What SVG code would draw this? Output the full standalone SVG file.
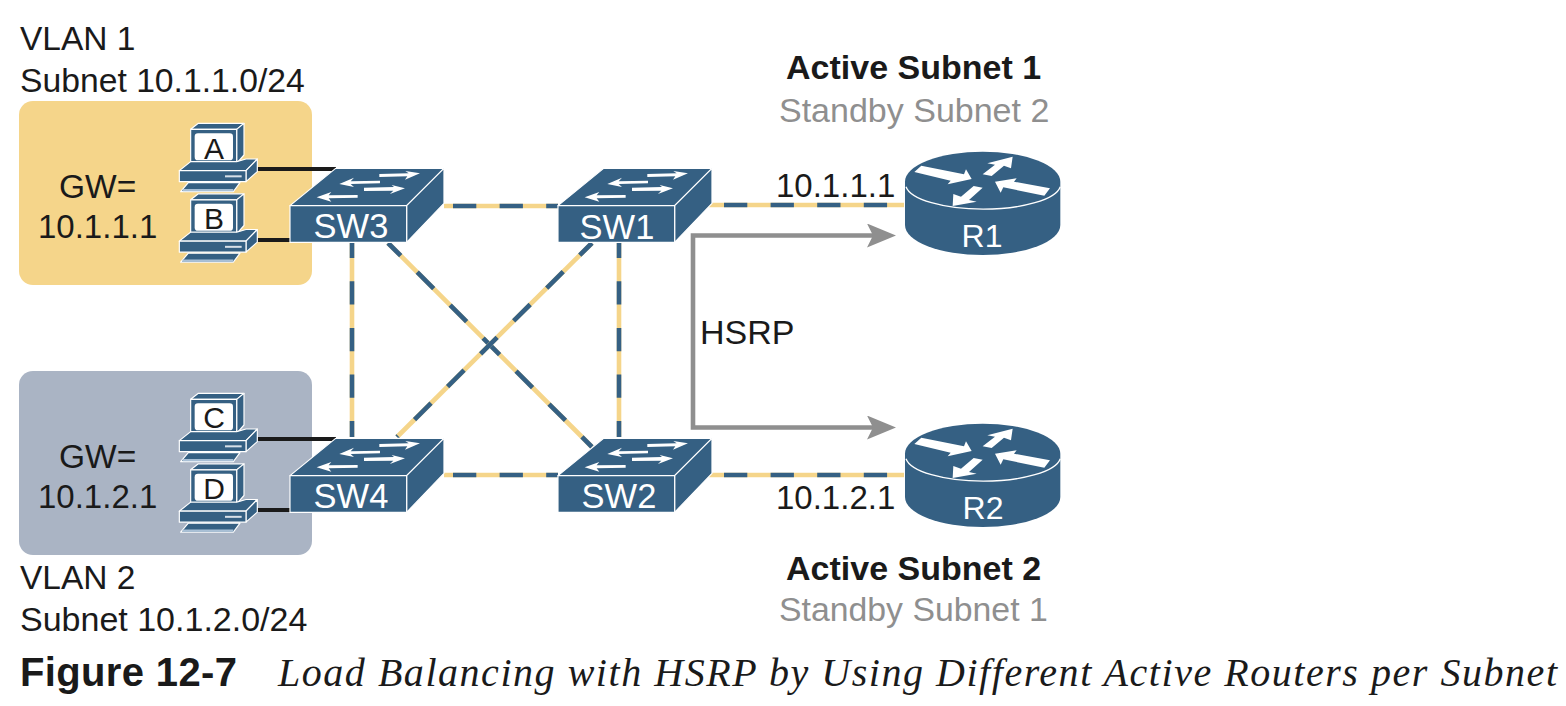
<svg xmlns="http://www.w3.org/2000/svg" xmlns:xlink="http://www.w3.org/1999/xlink" width="1566" height="706" viewBox="0 0 1566 706">
<style>
text{font-family:"Liberation Sans",Arial,sans-serif;fill:#1a1a1a}
.t{font-size:33.5px}
.s{font-size:34px}
.i{font-size:33px}
.b{font-size:34px;font-weight:bold}
.g{font-size:34px;fill:#8f8f8f}
.w{fill:#fff;text-anchor:middle}
.n{font-size:34.5px}
.r{font-size:32px}
.pc{font-size:30px;text-anchor:middle}
.y{stroke:#f5d58a;stroke-width:4.6;fill:none}
.d{stroke:#356083;stroke-width:4.6;fill:none;stroke-dasharray:23.3 23.3}
.k{stroke:#1a1a1a;stroke-width:4;fill:none}
.f{fill:#356083;stroke:#fff;stroke-width:3.5;stroke-linejoin:round}
.a{fill:#fff}
</style>
<defs>
<g id="pc" transform="scale(0.3333)">
<path class="f" d="M62 58L85 40H222L200 58Z"/>
<path class="f" d="M222 40V135L200 160V58Z"/>
<rect class="f" x="62" y="58" width="138" height="102"/>
<rect x="74" y="70" width="115" height="81" rx="10" fill="#fff"/>
<path class="f" d="M28 182L62 155H200L228 147H262L228 182Z"/>
<path class="f" d="M228 182L262 147V185L228 215Z"/>
<rect class="f" x="28" y="182" width="200" height="33"/>
<rect x="165" y="196" width="50" height="6" fill="#d8e0e8"/>
<path class="f" d="M32 245L55 218H210L190 245Z"/>
<rect x="38" y="237" width="152" height="7" fill="#a9c0d6"/>
</g>
<g id="sw" transform="translate(170,110) scale(0.3333)">
<path class="f" d="M360 287L497 175H822L710 287Z"/>
<path class="f" d="M710 287L822 175V280L710 397Z"/>
<rect class="f" x="360" y="287" width="350" height="110"/>
<path class="a" d="M628 192L716 190L706 183L750 190L705 209L712 199L628 201Z"/>
<path class="a" d="M508 222L552 203L542 214L630 212V220L542 222L552 231Z"/>
<path class="a" d="M582 233L672 231L665 225L705 235L660 252L670 242L582 243Z"/>
<path class="a" d="M440 262L484 246L476 256L563 255V263L476 265L484 275Z"/>
</g>
<g id="rt" transform="translate(880,140) scale(0.3333)">
<path d="M75 125A233 90 0 0 1 541 125V255A233 90 0 0 1 75 255Z" fill="#356083"/>
<path d="M78 140A233 76 0 0 0 541 140" fill="none" stroke="#fff" stroke-width="4"/>
<path class="a" d="M103 96L124 77L252 103L258 88L275 117L203 133L212 122Z"/>
<path class="a" d="M398 50L322 70L345 74L308 103L335 108L372 77L393 85Z"/>
<path class="a" d="M510 145L493 167L370 142L362 158L345 125L410 115L402 125Z"/>
<path class="a" d="M218 198L290 185L267 180L308 143L281 138L243 170L220 162Z"/>
</g>
<marker id="ah" markerUnits="userSpaceOnUse" markerWidth="32" markerHeight="26" refX="6" refY="12" orient="auto-start-reverse">
<path d="M0 0L29 12L0 24L6 12Z" fill="#8f8f8f"/>
</marker>
</defs>

<g id="vlan1-area"><rect x="19" y="101" width="293" height="184" rx="14" fill="#f5d58a"/></g>
<g id="vlan2-area"><rect x="19" y="371" width="293" height="184" rx="14" fill="#aab4c4"/></g>

<g id="connectors">
<path class="k" d="M257 169H336M257 240H292M257 439H336M257 510H292"/>
<g id="l-sw3-sw1"><path class="y" d="M444 206H558"/><path class="d" stroke-dashoffset="37.6" d="M444 206H558"/></g>
<g id="l-sw4-sw2"><path class="y" d="M444 475H558"/><path class="d" stroke-dashoffset="37.6" d="M444 475H558"/></g>
<g id="l-sw1-r1"><path class="y" d="M708 205H904"/><path class="d" stroke-dashoffset="30.6" d="M708 205H904"/></g>
<g id="l-sw2-r2"><path class="y" d="M708 475H904"/><path class="d" stroke-dashoffset="30.6" d="M708 475H904"/></g>
<g id="l-sw3-sw4"><path class="y" d="M352 243V437"/><path class="d" stroke-dashoffset="8.3" d="M352 243V437"/></g>
<g id="l-sw1-sw2"><path class="y" d="M619 243V437"/><path class="d" stroke-dashoffset="8.3" d="M619 243V437"/></g>
<g id="l-sw3-sw2"><path class="y" d="M388 243L592 447"/><path class="d" stroke-dashoffset="5.3" d="M388 243L592 447"/></g>
<g id="l-sw1-sw4"><path class="y" d="M592 243L397 437"/><path class="d" stroke-dashoffset="6" d="M592 243L397 437"/></g>
<path id="hsrp-link" d="M873 235.500H693V427.500H873" fill="none" stroke="#8f8f8f" stroke-width="4.600" marker-start="url(#ah)" marker-end="url(#ah)"/>
</g>

<g id="pc-a"><use xlink:href="#pc" href="#pc" transform="translate(170,110)"/><text class="pc" x="214" y="159">A</text></g>
<g id="pc-b"><use xlink:href="#pc" href="#pc" transform="translate(170,180.500)"/><text class="pc" x="214" y="229">B</text></g>
<g id="pc-c"><use xlink:href="#pc" href="#pc" transform="translate(170,380)"/><text class="pc" x="214" y="428">C</text></g>
<g id="pc-d"><use xlink:href="#pc" href="#pc" transform="translate(170,450.500)"/><text class="pc" x="214" y="499">D</text></g>

<g id="sw3"><use xlink:href="#sw" href="#sw"/><text class="w n" x="351" y="238">SW3</text></g>
<g id="sw1"><use xlink:href="#sw" href="#sw" transform="translate(268,0)"/><text class="w n" x="617" y="239">SW1</text></g>
<g id="sw4"><use xlink:href="#sw" href="#sw" transform="translate(0,270)"/><text class="w n" x="351" y="508">SW4</text></g>
<g id="sw2"><use xlink:href="#sw" href="#sw" transform="translate(268,270)"/><text class="w n" x="619" y="508">SW2</text></g>

<g id="r1"><use xlink:href="#rt" href="#rt"/><text class="w r" x="982" y="247">R1</text></g>
<g id="r2"><use xlink:href="#rt" href="#rt" transform="translate(0,272)"/><text class="w r" x="983" y="519">R2</text></g>

<g id="labels">
<text class="t" x="20" y="50">VLAN 1</text>
<text font-size="33.7" x="20" y="92">Subnet 10.1.1.0/24</text>
<text class="t" x="59" y="198">GW=</text>
<text class="i" x="38" y="238">10.1.1.1</text>
<text class="t" x="59" y="468">GW=</text>
<text class="i" x="38" y="508">10.1.2.1</text>
<text class="t" x="20" y="589">VLAN 2</text>
<text class="s" x="20" y="631">Subnet 10.1.2.0/24</text>
<text class="b" x="786" y="79">Active Subnet 1</text>
<text class="g" x="779" y="122">Standby Subnet 2</text>
<text class="i" x="776" y="197">10.1.1.1</text>
<text class="s" x="700" y="344">HSRP</text>
<text class="i" x="776" y="509">10.1.2.1</text>
<text class="b" x="786" y="580">Active Subnet 2</text>
<text class="g" x="779" y="621" style="font-size:33.8px">Standby Subnet 1</text>
<text x="20" y="686" font-size="40" font-weight="bold" textLength="217" lengthAdjust="spacing">Figure 12-7</text>
<text x="278" y="686" font-size="40" font-style="italic" style="font-family:'Liberation Serif',serif" textLength="1279" lengthAdjust="spacing">Load Balancing with HSRP by Using Different Active Routers per Subnet</text>
</g>
</svg>
